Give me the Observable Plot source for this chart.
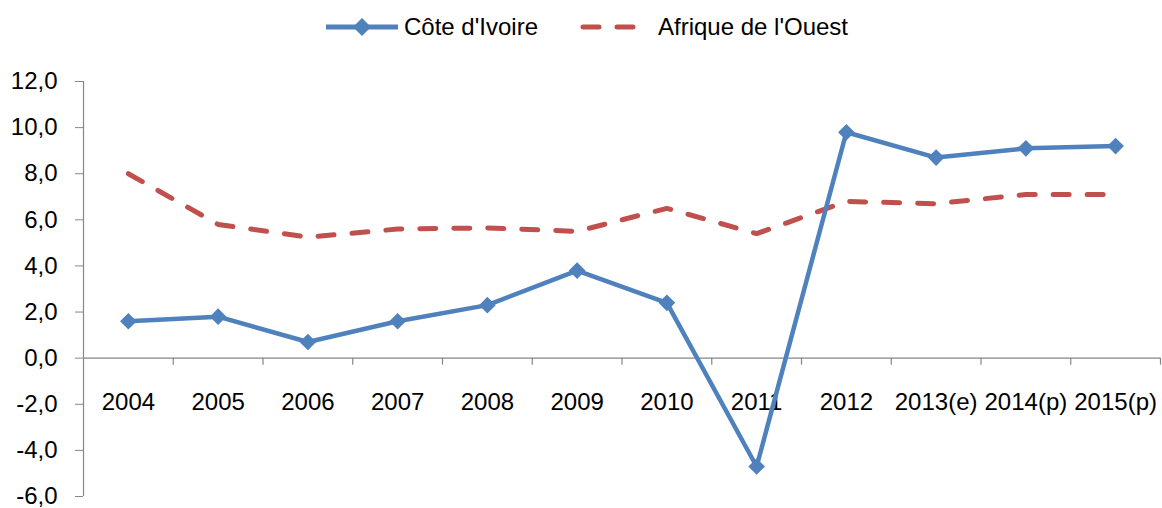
<!DOCTYPE html>
<html>
<head>
<meta charset="utf-8">
<script src="https://cdn.jsdelivr.net/npm/d3@7"></script>
<script src="https://cdn.jsdelivr.net/npm/@observablehq/plot@0.6"></script>
<style>
  html, body { margin: 0; padding: 0; background: #fff; }
  body { width: 1162px; height: 508px; overflow: hidden; font-family: "Liberation Sans", Arial, sans-serif; }
  #legend { height: 52px; display: flex; align-items: center; padding-left: 326px; font-size: 24px; color: #000; box-sizing: border-box; padding-top: 2px; }
  #legend .item { display: flex; align-items: center; }
  #legend svg { display: block; }
</style>
</head>
<body>
<div id="legend">
  <div class="item">
    <svg width="72" height="20"><line x1="0" y1="10" x2="72" y2="10" stroke="#4F81BD" stroke-width="5"/><path d="M36,1 L45,10 L36,19 L27,10 Z" fill="#4F81BD"/></svg>
    <span style="margin-left:6px">Côte d'Ivoire</span>
  </div>
  <div class="item" style="margin-left:42px">
    <svg width="58" height="20"><line x1="3" y1="10" x2="56" y2="10" stroke="#C0504D" stroke-width="5" stroke-dasharray="16,18" stroke-linecap="round"/></svg>
    <span style="margin-left:20px">Afrique de l'Ouest</span>
  </div>
</div>
<div id="chart"></div>
<script>
const categories = ["2004","2005","2006","2007","2008","2009","2010","2011","2012","2013(e)","2014(p)","2015(p)"];
const coteDIvoire = [1.6, 1.8, 0.7, 1.6, 2.3, 3.8, 2.4, -4.7, 9.8, 8.7, 9.1, 9.2];
const afriqueOuest = [8.0, 5.8, 5.25, 5.6, 5.65, 5.5, 6.5, 5.4, 6.8, 6.7, 7.1, 7.1];
const yTicks = [-6, -4, -2, 0, 2, 4, 6, 8, 10, 12];

const civData = categories.map((c, i) => ({i: i + 0.5, v: coteDIvoire[i]}));
const aoData = categories.map((c, i) => ({i: i + 0.5, v: afriqueOuest[i]}));
const boundaries = categories.map((c, i) => i + 1);
const fmt = d => d.toFixed(1).replace(".", ",");
const gray = "#868686";

const chart = Plot.plot({
  width: 1162,
  height: 456,
  marginTop: 29,
  marginBottom: 12,
  marginLeft: 83,
  marginRight: 2,
  style: {fontFamily: "Liberation Sans, Arial, sans-serif", fontSize: "24px", color: "#000", background: "#fff"},
  x: {domain: [0, categories.length], axis: null},
  y: {domain: [-6, 12], axis: null},
  marks: [
    Plot.axisY(yTicks, {tickSize: 8, tickPadding: 18, tickFormat: fmt, stroke: gray, fontSize: 24, fill: "#000", label: null}),
    Plot.ruleX([0], {stroke: gray, strokeWidth: 1.2}),
    Plot.ruleY([0], {stroke: gray, strokeWidth: 1.2}),
    Plot.ruleX(boundaries, {x: d => d, y1: 0, y2: 0, insetBottom: -7, stroke: gray, strokeWidth: 1.2}),
    Plot.text(categories, {x: (d, i) => i + 0.5, y: 0, text: d => d, dy: 44, fontSize: 24, fill: "#000"}),
    Plot.line(aoData, {x: "i", y: "v", stroke: "#C0504D", strokeWidth: 5, strokeDasharray: "16,18", strokeLinecap: "round"}),
    Plot.line(civData, {x: "i", y: "v", stroke: "#4F81BD", strokeWidth: 4.5}),
    Plot.dot(civData, {x: "i", y: "v", symbol: "diamond2", r: 7.5, fill: "#4F81BD", stroke: "none"})
  ]
});
document.getElementById("chart").appendChild(chart);
</script>
</body>
</html>
